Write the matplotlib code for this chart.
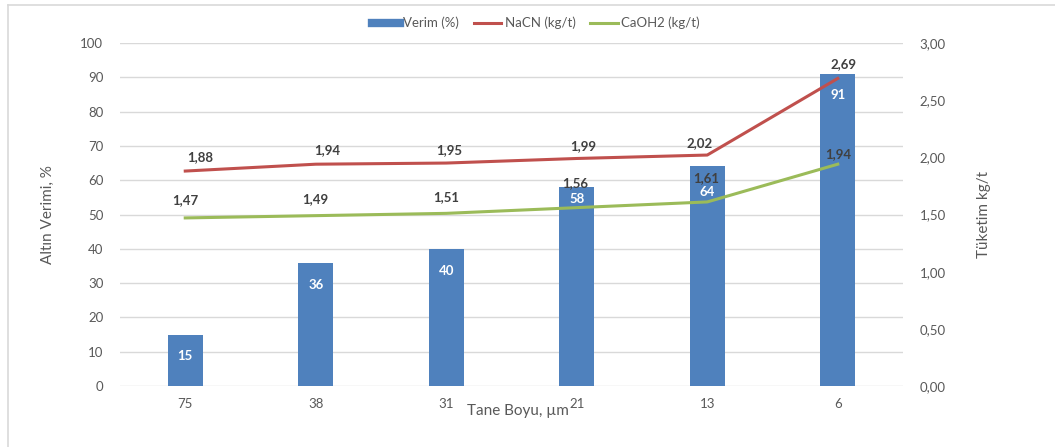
import matplotlib
matplotlib.use("Agg")
import matplotlib.pyplot as plt
from matplotlib.lines import Line2D
import numpy as np

plt.rcParams['font.family'] = ['Lato', 'DejaVu Sans']

# Data
grain_size = ["75", "38", "31", "21", "13", "6"]
yield_pct = [15, 36, 40, 58, 64, 91]
nacn = [1.88, 1.94, 1.95, 1.99, 2.02, 2.69]
caoh2 = [1.47, 1.49, 1.51, 1.56, 1.61, 1.94]
left_ticks = list(range(0, 101, 10))
right_ticks = [0.0, 0.5, 1.0, 1.5, 2.0, 2.5, 3.0]

# Label placement (pixel offsets from each mark)
bar_lbl_dy = [-21, -22, -22, -12, -26, -21]
nacn_lbl_off = [(15, 14), (11, 14), (3, 13), (6, 12), (-8, 12), (6, 14)]
caoh2_lbl_off = [(0, 18), (-1, 17), (0, 16), (-2, 25), (-1, 24), (0, 10)]

BLUE = "#4F81BD"
RED = "#C0504D"
GREEN = "#9BBB59"
GRID = "#D9D9D9"
TXT = "#595959"
LBL = "#404040"

def comma(v, nd):
    return f"{v:.{nd}f}".replace(".", ",")

W, H = 1055, 447
fig = plt.figure(figsize=(W / 100, H / 100), dpi=100)
ax = fig.add_axes([120 / W, 1 - 386 / H, (903 - 120) / W, (386 - 43) / H])
ax2 = ax.twinx()

x = np.arange(len(grain_size))
ax.bar(x, yield_pct, width=0.27, color=BLUE, zorder=2)
ax.set_xlim(-0.5, len(grain_size) - 0.5)
ax.set_ylim(0, 100)
ax.set_yticks(left_ticks)
ax.set_xticks(x)
ax.set_xticklabels(grain_size)
ax.yaxis.grid(True, color=GRID, linewidth=1, zorder=0)
ax.set_axisbelow(True)
for s in ax.spines.values():
    s.set_visible(False)
for s in ax2.spines.values():
    s.set_visible(False)
ax.tick_params(axis='both', length=0, labelsize=9.5, labelcolor=TXT)
ax.tick_params(axis='y', pad=12)
ax.tick_params(axis='x', pad=9)

for xi, v, dy in zip(x, yield_pct, bar_lbl_dy):
    ax.annotate(str(v), (xi, v), xytext=(0, dy), textcoords='offset pixels',
                ha='center', va='center', color='white', fontsize=9.5,
                fontweight='bold', zorder=5)

ax2.plot(x, nacn, color=RED, linewidth=2.2, zorder=3)
ax2.plot(x, caoh2, color=GREEN, linewidth=2.2, zorder=3)
ax2.set_ylim(0, 3)
ax2.set_yticks(right_ticks)
ax2.set_yticklabels([comma(t, 2) for t in right_ticks])
ax2.tick_params(axis='y', length=0, labelsize=9.5, labelcolor=TXT, pad=12)

for xi, v, off in zip(x, nacn, nacn_lbl_off):
    ax2.annotate(comma(v, 2), (xi, v), xytext=off, textcoords='offset pixels',
                 ha='center', va='center', color=LBL, fontsize=9.5, fontweight='bold')
for xi, v, off in zip(x, caoh2, caoh2_lbl_off):
    ax2.annotate(comma(v, 2), (xi, v), xytext=off, textcoords='offset pixels',
                 ha='center', va='center', color=LBL, fontsize=9.5, fontweight='bold')

ax.set_ylabel("Altın Verimi, %", fontsize=11, color=TXT)
ax.yaxis.set_label_coords(-(120 - 55) / (903 - 120), 0.5)
ax2.set_ylabel("Tüketim kg/t", fontsize=11, color=TXT)
ax2.yaxis.set_label_coords((977 - 120) / (903 - 120), 0.5)
fig.text(518 / W, 1 - 411 / H, "Tane Boyu, µm", ha='center', va='center',
         fontsize=11, color=TXT)

handles = [
    Line2D([], [], color=BLUE, linewidth=6),
    Line2D([], [], color=RED, linewidth=2.2),
    Line2D([], [], color=GREEN, linewidth=2.2),
]
fig.legend(handles, ["Verim (%)", "NaCN (kg/t)", "CaOH2 (kg/t)"],
           loc='center', bbox_to_anchor=(536 / W, 1 - 23 / H), ncol=3,
           frameon=False, fontsize=9.5, labelcolor=TXT, handlelength=2.1,
           handletextpad=0.25, columnspacing=1.1)

# frame lines on the top and left edges
fig.add_artist(Line2D([7.5 / W, 7.5 / W], [0, 1 - 4.5 / H], color="#D9D9D9",
                      linewidth=1.2, transform=fig.transFigure))
fig.add_artist(Line2D([7.5 / W, 1], [1 - 4.5 / H, 1 - 4.5 / H], color="#D9D9D9",
                      linewidth=1.2, transform=fig.transFigure))

fig.savefig("out.png", dpi=100, facecolor='white')
